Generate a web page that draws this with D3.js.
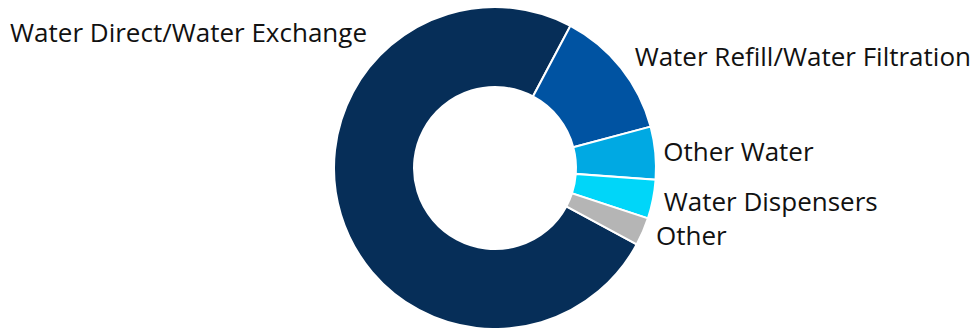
<!DOCTYPE html>
<html>
<head>
<meta charset="utf-8">
<script src="https://cdn.jsdelivr.net/npm/d3@7"></script>
<style>
  html, body { margin: 0; padding: 0; background: #fff; }
  svg text { font-family: "Open Sans", "Noto Sans", sans-serif; fill: #111; }
</style>
</head>
<body>
<div id="chart"></div>
<script>
// share of each segment (%)
var categories = ["Water Direct/Water Exchange", "Water Refill/Water Filtration", "Other Water", "Water Dispensers", "Other"];
var shares = [74.9, 13.1, 5.3, 3.9, 2.8];
var colors = ["#062e58", "#0053a2", "#00a9e3", "#00d6f9", "#b5b5b5"];

var width = 978, height = 328;
var cx = 495, cy = 168,
    outerR = 161, innerR = 81;

var data = categories.map(function(c, i) { return {name: c, value: shares[i], color: colors[i]}; });

var svg = d3.select("#chart")
  .append("svg")
    .attr("width", width)
    .attr("height", height);

var g = svg.append("g")
    .attr("transform", "translate(" + cx + "," + cy + ")");

// first slice starts a bit past 4 o'clock, going clockwise
var start = 118.3 * Math.PI / 180;
var pie = d3.pie()
  .sort(null)
  .value(function(d) { return d.value; })
  .startAngle(start)
  .endAngle(start + 2 * Math.PI);

var arc = d3.arc()
  .innerRadius(innerR)
  .outerRadius(outerR);

var arcs = pie(data);

g.selectAll("path")
  .data(arcs)
  .enter()
  .append("path")
    .attr("d", arc)
    .attr("fill", function(d) { return d.data.color; })
    .attr("stroke", "#fff")
    .attr("stroke-width", 2);

// labels at the outside end of each slice, small nudges like excel does;
// the big one doesn't fit on its side so it sits top-left
var labelR = 172;
var nudge = [[0, 0], [5, -4], [-3, 0], [0, 0], [3, 0]];
g.selectAll("text")
  .data(arcs)
  .enter()
  .append("text")
    .style("font-size", "26px")
    .attr("dy", "0.36em")
    .each(function(d, i) {
      var t = d3.select(this);
      if (i === 0) {
        t.attr("x", 367 - cx).attr("y", 33 - cy).attr("text-anchor", "end");
      } else {
        var a = (d.startAngle + d.endAngle) / 2;
        t.attr("x", labelR * Math.sin(a) + nudge[i][0])
         .attr("y", -labelR * Math.cos(a) + nudge[i][1])
         .attr("text-anchor", "start");
      }
    })
    .text(function(d) { return d.data.name; });
</script>
</body>
</html>
